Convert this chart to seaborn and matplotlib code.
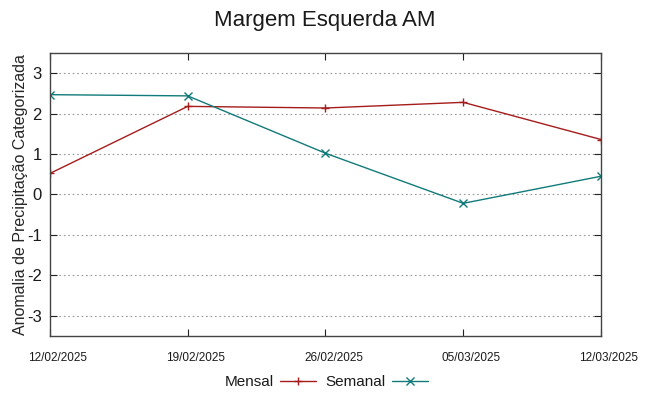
import numpy as np
import pandas as pd
import matplotlib
matplotlib.use("Agg")
import matplotlib.pyplot as plt
import matplotlib.transforms as mtransforms
import seaborn as sns

# --- data ---
dates = ['12/02/2025', '19/02/2025', '26/02/2025', '05/03/2025', '12/03/2025']
mensal = [0.52, 2.18, 2.14, 2.28, 1.36]
semanal = [2.47, 2.44, 1.02, -0.22, 0.45]
series_names = ['Mensal', 'Semanal']
yticks = [-3, -2, -1, 0, 1, 2, 3]

df = pd.DataFrame({
    'x': list(range(len(dates))) * 2,
    'valor': mensal + semanal,
    'serie': [series_names[0]] * len(dates) + [series_names[1]] * len(dates),
})

sns.set_style('white')
plt.rcParams['font.family'] = ['Liberation Sans', 'DejaVu Sans']
plt.rcParams['text.color'] = '#1a1a1a'
plt.rcParams['xtick.color'] = '#1a1a1a'
plt.rcParams['ytick.color'] = '#1a1a1a'

fig = plt.figure(figsize=(6.49, 3.96), dpi=100)
ax = fig.add_axes([0.077, 0.152, 0.849, 0.714])

palette = {'Mensal': '#a51c1c', 'Semanal': '#117a7a'}
sns.lineplot(data=df, x='x', y='valor', hue='serie', style='serie',
             markers={'Mensal': '+', 'Semanal': 'x'}, dashes=False,
             palette=palette, linewidth=1.0, markersize=6,
             ax=ax, legend=False)
for line in ax.lines:
    line.set_markeredgecolor(line.get_color())
    line.set_markeredgewidth(1.0)

ax.set_xlim(0, len(dates) - 1)
ax.set_ylim(-3.5, 3.5)
ax.set_yticks(yticks)
ax.set_yticklabels([str(t) for t in yticks], fontsize=12)
ax.set_xticks(range(len(dates)))
ax.set_xticklabels(dates, fontsize=8.5)
ax.yaxis.grid(True, linestyle=(0, (1.5, 2.5)), color='#999999', linewidth=0.8)
ax.xaxis.grid(False)

for s in ax.spines.values():
    s.set_color('#444444')
    s.set_linewidth(1.0)
ax.tick_params(axis='both', direction='in', length=5, color='#222222',
               top=True, right=True, bottom=True, left=True)
ax.tick_params(axis='x', pad=12)
ax.tick_params(axis='y', pad=6)

# gnuplot-like: date labels sit slightly right of their ticks
shift = mtransforms.ScaledTranslation(8 / 100, 0, fig.dpi_scale_trans)
for lbl in ax.get_xticklabels():
    lbl.set_transform(lbl.get_transform() + shift)

ax.set_xlabel('')
ax.set_ylabel('Anomalia de Precipitação Categorizada', fontsize=11.5, labelpad=-1)
fig.suptitle('Margem Esquerda AM', fontsize=16, y=0.975)

handles = [plt.Line2D([], [], color=palette[n], marker=m, markersize=6, linewidth=1.0)
           for n, m in zip(series_names, ['+', 'x'])]
fig.legend(handles, series_names, loc='center', ncol=2, frameon=False,
           markerfirst=False, fontsize=11, bbox_to_anchor=(0.503, 0.035),
           handlelength=2.4, columnspacing=0.6, handletextpad=0.4)

fig.savefig('out.png', dpi=100)
